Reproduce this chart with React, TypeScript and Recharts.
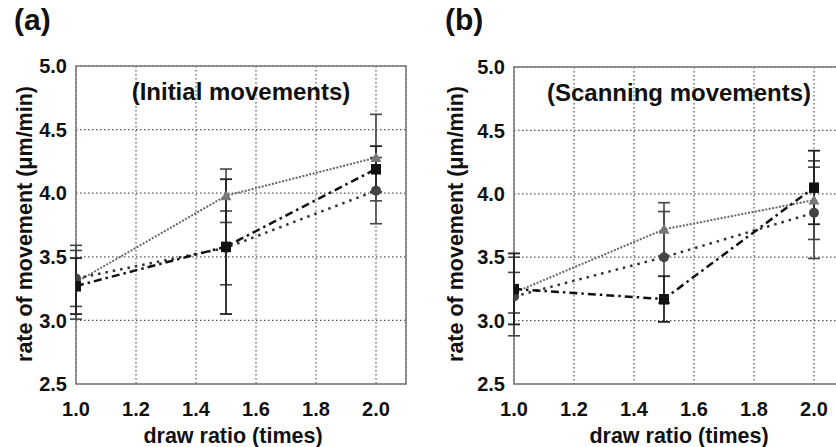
import React from 'react'
import {
  LineChart, Line, XAxis, YAxis, CartesianGrid, ErrorBar, ReferenceArea,
} from 'recharts'

const drawRatio = [1.0, 1.5, 2.0]
const xTicks = [1.0, 1.2, 1.4, 1.6, 1.8, 2.0]
const yTicks = [2.5, 3.0, 3.5, 4.0, 4.5, 5.0]

// (a) initial movements
const initTriangle = [3.30, 3.98, 4.28]
const initTriangleErr = [0.29, 0.21, 0.34]
const initCircle = [3.33, 3.57, 4.02]
const initCircleErr = [0.22, 0.29, 0.26]
const initSquare = [3.27, 3.58, 4.19]
const initSquareErr = [0.22, 0.53, 0.18]

// (b) scanning movements
const scanTriangle = [3.22, 3.72, 3.95]
const scanTriangleErr = [0.16, 0.21, 0.31]
const scanCircle = [3.19, 3.50, 3.85]
const scanCircleErr = [0.31, 0.36, 0.36]
const scanSquare = [3.25, 3.17, 4.05]
const scanSquareErr = [0.28, 0.18, 0.29]

const FONT = '"Liberation Sans", Arial, sans-serif'
const INK = '#111'

const buildRows = (tri: number[], triErr: number[], cir: number[], cirErr: number[], sq: number[], sqErr: number[]) =>
  drawRatio.map((x, i) => ({
    x, tri: tri[i], triErr: triErr[i], cir: cir[i], cirErr: cirErr[i], sq: sq[i], sqErr: sqErr[i],
  }))

const TriangleDot = (p: any) => {
  const { cx, cy, index } = p
  if (cx == null || cy == null) return <g key={index} />
  const s = 5.5
  return <polygon key={index} points={`${cx},${cy - s} ${cx + s},${cy + s * 0.8} ${cx - s},${cy + s * 0.8}`} fill="#777" />
}
const CircleDot = (p: any) => {
  const { cx, cy, index } = p
  if (cx == null || cy == null) return <g key={index} />
  return <circle key={index} cx={cx} cy={cy} r={5} fill="#444" />
}
const SquareDot = (p: any) => {
  const { cx, cy, index } = p
  if (cx == null || cy == null) return <g key={index} />
  return <rect key={index} x={cx - 5} y={cy - 5} width={10} height={10.5} fill="#111" />
}

type PanelProps = {
  rows: ReturnType<typeof buildRows>
  width: number
  left: number
  top: number
  yAxisWidth: number
  right: number
  title: string
  yTitleX: number
  xTitleX: number
}

function Panel({ rows, width, left, top, yAxisWidth, right, title, yTitleX, xTitleX }: PanelProps) {
  const tickStyle = { fill: INK, fontSize: 20, fontWeight: 700, fontFamily: FONT }
  return (
    <div style={{ position: 'absolute', left, top: 0 }}>
      <LineChart width={width} height={447} data={rows} margin={{ top, right, bottom: 0, left: 0 }}>
        <CartesianGrid stroke="#555" strokeDasharray="1.5 2.5" strokeWidth={1.2} />
        <XAxis
          type="number"
          dataKey="x"
          domain={[1.0, 2.1]}
          ticks={xTicks}
          tickFormatter={(v: number) => v.toFixed(1)}
          height={63}
          tickLine={false}
          axisLine={false}
          tickSize={0}
          tickMargin={18}
          tick={tickStyle}
          allowDataOverflow
          label={{
            content: () => (
              <text x={xTitleX} y={443} textAnchor="middle" fill={INK} fontSize={21.5} fontWeight={700} fontFamily={FONT}>
                draw ratio (times)
              </text>
            ),
          }}
        />
        <YAxis
          type="number"
          domain={[2.5, 5.0]}
          ticks={yTicks}
          tickFormatter={(v: number) => v.toFixed(1)}
          width={yAxisWidth}
          tickLine={false}
          axisLine={false}
          tickSize={0}
          tickMargin={9}
          tick={tickStyle}
          allowDataOverflow
          label={{
            content: () => (
              <text
                x={yTitleX}
                y={224}
                transform={`rotate(-90 ${yTitleX} 224)`}
                textAnchor="middle"
                dominantBaseline="central"
                fill={INK}
                fontSize={21.5}
                fontWeight={700}
                fontFamily={FONT}
              >
                rate of movement (μm/min)
              </text>
            ),
          }}
        />
        <ReferenceArea
          x1={1.0}
          x2={2.1}
          y1={2.5}
          y2={5.0}
          fill="none"
          stroke="#777"
          strokeWidth={1.5}
          ifOverflow="visible"
          label={{
            value: title,
            position: 'insideTop',
            offset: 17,
            fill: INK,
            fontSize: 24,
            fontWeight: 700,
            fontFamily: FONT,
          }}
        />
        <Line
          type="linear"
          dataKey="tri"
          stroke="#666"
          strokeWidth={2}
          strokeDasharray="2 1.5"
          dot={TriangleDot}
          activeDot={false}
          isAnimationActive={false}
        >
          <ErrorBar dataKey="triErr" direction="y" width={6} stroke="#444" strokeWidth={1.6} isAnimationActive={false} />
        </Line>
        <Line
          type="linear"
          dataKey="cir"
          stroke="#333"
          strokeWidth={2.5}
          strokeDasharray="2.5 5"
          dot={CircleDot}
          activeDot={false}
          isAnimationActive={false}
        >
          <ErrorBar dataKey="cirErr" direction="y" width={6} stroke="#444" strokeWidth={1.6} isAnimationActive={false} />
        </Line>
        <Line
          type="linear"
          dataKey="sq"
          stroke="#111"
          strokeWidth={2.5}
          strokeDasharray="8 4 2.5 4"
          dot={SquareDot}
          activeDot={false}
          isAnimationActive={false}
        >
          <ErrorBar dataKey="sqErr" direction="y" width={6} stroke="#222" strokeWidth={1.8} isAnimationActive={false} />
        </Line>
      </LineChart>
    </div>
  )
}

const panelLabel = (text: string, left: number) => (
  <div
    style={{
      position: 'absolute', left, top: 2, fontFamily: FONT, fontWeight: 700, fontSize: 30, color: INK, lineHeight: '36px',
    }}
  >
    {text}
  </div>
)

export default function App() {
  const rowsA = buildRows(initTriangle, initTriangleErr, initCircle, initCircleErr, initSquare, initSquareErr)
  const rowsB = buildRows(scanTriangle, scanTriangleErr, scanCircle, scanCircleErr, scanSquare, scanSquareErr)
  return (
    <div style={{ position: 'absolute', left: 0, top: 0, width: 836, height: 447, overflow: 'hidden', background: '#fff' }}>
      <Panel rows={rowsA} width={416} left={0} top={66} yAxisWidth={76} right={10}
        title="(Initial movements)" yTitleX={25} xTitleX={233} />
      <Panel rows={rowsB} width={440} left={416} top={67} yAxisWidth={98} right={12}
        title="(Scanning movements)" yTitleX={40} xTitleX={263} />
      {panelLabel('(a)', 14)}
      {panelLabel('(b)', 445)}
    </div>
  )
}
